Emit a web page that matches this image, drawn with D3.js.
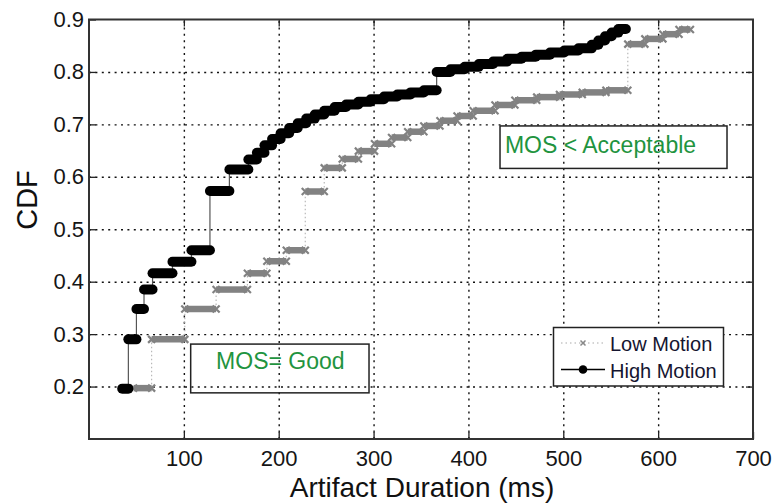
<!DOCTYPE html>
<html><head><meta charset="utf-8">
<script src="https://cdn.jsdelivr.net/npm/d3@7"></script>
<style>
body{margin:0;background:#fff;}
svg{display:block;font-family:"Liberation Sans",Arial,Helvetica,sans-serif;}
</style></head><body>
<svg id="chart" width="775" height="504"></svg>
<script>
// Axis ticks
const xTicks = [100, 200, 300, 400, 500, 600, 700];
const yTicks = [0.2, 0.3, 0.4, 0.5, 0.6, 0.7, 0.8, 0.9];

// Empirical CDF steps: level i holds between edges[i] and edges[i+1] (ms)
const highEdges = [35, 41.5, 50, 58, 67, 88, 108, 127.5, 148, 168, 177, 185, 193, 202, 211, 220, 229, 238, 248, 259,
  271, 284, 297, 311, 325, 339, 353, 366.5, 381, 396, 411, 426, 441, 456, 471, 486, 501, 516, 530, 537, 544, 551, 558, 566];
const highCdf = [0.196, 0.290, 0.348, 0.385, 0.416, 0.438, 0.460, 0.573, 0.614, 0.633, 0.646, 0.660, 0.672, 0.683, 0.693,
  0.702, 0.711, 0.719, 0.726, 0.733, 0.738, 0.743, 0.748, 0.753, 0.757, 0.761, 0.765, 0.800, 0.805, 0.810, 0.815, 0.820,
  0.825, 0.829, 0.833, 0.837, 0.841, 0.845, 0.852, 0.860, 0.868, 0.875, 0.882];

const lowEdges = [47, 66, 101, 134, 167, 187.5, 208, 228, 248, 267, 284, 301, 319, 336, 353, 370, 388, 405, 428, 449,
  472, 496, 520, 545, 568, 586, 605, 622, 634];
const lowCdf = [0.197, 0.290, 0.348, 0.385, 0.416, 0.439, 0.460, 0.572, 0.617, 0.634, 0.649, 0.663, 0.675, 0.686, 0.697,
  0.707, 0.716, 0.726, 0.737, 0.746, 0.752, 0.757, 0.761, 0.765, 0.853, 0.863, 0.872, 0.881];

const seriesNames = ["Low Motion", "High Motion"];
const noteAcceptable = "MOS < Acceptable";
const noteGood = "MOS= Good";
const xTitle = "Artifact Duration (ms)";
const yTitle = "CDF";

const W = 775, H = 504;
const m = {l: 89, r: 22, t: 19.5, b: 65};
const svg = d3.select("#chart");
const x = d3.scaleLinear().domain([0, 700]).range([m.l, W - m.r]);
const y = d3.scaleLinear().domain([0.1, 0.9]).range([H - m.b, m.t]);
const pw = W - m.l - m.r, ph = H - m.t - m.b;

// dotted grid
const gridStyle = g => g.call(s => s.select(".domain").remove())
  .call(s => s.selectAll(".tick line").attr("stroke", "#111").attr("stroke-width", 1.4).attr("stroke-dasharray", "2,4.4"));
svg.append("g").attr("transform", `translate(0,${y(0.1)})`)
  .call(d3.axisBottom(x).tickValues(xTicks.filter(d => d < 700)).tickSize(-ph).tickFormat(""))
  .call(gridStyle);
svg.append("g").attr("transform", `translate(${x(0)},0)`)
  .call(d3.axisLeft(y).tickValues(yTicks.filter(d => d < 0.9)).tickSize(-pw).tickFormat(""))
  .call(gridStyle);

// note boxes (unfilled), placed in data coordinates
function noteBox(x0, x1, y0, y1, txt, tx, ty) {
  svg.append("rect").attr("x", x(x0)).attr("y", y(y1)).attr("width", x(x1) - x(x0)).attr("height", y(y0) - y(y1))
    .attr("fill", "none").attr("stroke", "#222").attr("stroke-width", 1.5);
  svg.append("text").attr("x", x(tx)).attr("y", y(ty)).attr("font-size", 23).attr("fill", "#1f9440").text(txt);
}
noteBox(433.3, 672.6, 0.616, 0.697, noteAcceptable, 438.5, 0.645);
noteBox(107.2, 295.2, 0.188, 0.281, noteGood, 134, 0.233);

// build step segments
function steps(edges, cdf) {
  return cdf.map((c, i) => ({x0: edges[i], x1: edges[i + 1], c}));
}
function risers(edges, cdf) {
  return cdf.slice(1).map((c, i) => ({xv: edges[i + 1], c0: cdf[i], c1: c}));
}
const lowSteps = steps(lowEdges, lowCdf), highSteps = steps(highEdges, highCdf);

// Low motion: dotted grey risers, grey runs with x markers
const gl = svg.append("g");
gl.selectAll("line.riser").data(risers(lowEdges, lowCdf)).join("line")
  .attr("x1", d => x(d.xv)).attr("x2", d => x(d.xv)).attr("y1", d => y(d.c0)).attr("y2", d => y(d.c1))
  .attr("stroke", "#b8b8b8").attr("stroke-width", 1.2).attr("stroke-dasharray", "1.5,2.5");
gl.selectAll("line.run").data(lowSteps).join("line")
  .attr("x1", d => x(d.x0)).attr("x2", d => x(d.x1)).attr("y1", d => y(d.c)).attr("y2", d => y(d.c))
  .attr("stroke", "#828282").attr("stroke-width", 6.5);
const cross = "M-3.5,-3.5L3.5,3.5M-3.5,3.5L3.5,-3.5";
gl.selectAll("path.xm").data(lowSteps.flatMap(d => [[d.x0, d.c], [d.x1, d.c]])).join("path")
  .attr("d", cross).attr("transform", d => `translate(${x(d[0])},${y(d[1])})`)
  .attr("stroke", "#828282").attr("stroke-width", 2.2).attr("fill", "none");

// High motion: solid risers, black runs of dot markers
const gh = svg.append("g");
gh.selectAll("line.riser").data(risers(highEdges, highCdf)).join("line")
  .attr("x1", d => x(d.xv)).attr("x2", d => x(d.xv)).attr("y1", d => y(d.c0)).attr("y2", d => y(d.c1))
  .attr("stroke", "#555").attr("stroke-width", 1.2);
gh.selectAll("line.run").data(highSteps).join("line")
  .attr("x1", d => x(d.x0)).attr("x2", d => x(d.x1)).attr("y1", d => y(d.c)).attr("y2", d => y(d.c))
  .attr("stroke", "#000").attr("stroke-width", 10).attr("stroke-linecap", "round");

// axes with inward ticks on all sides
const axisStyle = g => g.call(s => s.select(".domain").remove())
  .call(s => s.selectAll(".tick line").attr("stroke", "#222").attr("stroke-width", 1.3))
  .call(s => s.selectAll(".tick text").attr("fill", "#151515").attr("font-size", 22)
    .attr("font-family", "'Liberation Sans',Arial,sans-serif"));
svg.append("g").attr("transform", `translate(0,${y(0.1)})`)
  .call(d3.axisBottom(x).tickValues(xTicks).tickSize(-7).tickPadding(11).tickFormat(d3.format("d")))
  .call(axisStyle);
svg.append("g").attr("transform", `translate(${x(0)},0)`)
  .call(d3.axisLeft(y).tickValues(yTicks).tickSize(-7).tickPadding(5).tickFormat(d3.format(".1f")))
  .call(axisStyle);
svg.append("g").attr("transform", `translate(0,${y(0.9)})`)
  .call(d3.axisTop(x).tickValues(xTicks.filter(d => d < 700)).tickSize(-7).tickFormat(""))
  .call(axisStyle);
svg.append("g").attr("transform", `translate(${x(700)},0)`)
  .call(d3.axisRight(y).tickValues(yTicks.filter(d => d < 0.9)).tickSize(-7).tickFormat(""))
  .call(axisStyle);
svg.append("rect").attr("x", x(0)).attr("y", y(0.9)).attr("width", pw).attr("height", ph)
  .attr("fill", "none").attr("stroke", "#333").attr("stroke-width", 2);

// legend
const lg = svg.append("g");
lg.append("rect").attr("x", 553.5).attr("y", 327.5).attr("width", 170).attr("height", 58.5)
  .attr("fill", "#fff").attr("stroke", "#222").attr("stroke-width", 1.5);
lg.append("line").attr("x1", 561).attr("x2", 605).attr("y1", 343).attr("y2", 343)
  .attr("stroke", "#aaa").attr("stroke-width", 1.2).attr("stroke-dasharray", "1.5,3");
lg.append("path").attr("d", "M-2.5,-2.5L2.5,2.5M-2.5,2.5L2.5,-2.5").attr("transform", "translate(583,343)")
  .attr("stroke", "#888").attr("stroke-width", 1.5);
lg.append("line").attr("x1", 561).attr("x2", 605).attr("y1", 369.5).attr("y2", 369.5)
  .attr("stroke", "#000").attr("stroke-width", 1.5);
lg.append("circle").attr("cx", 583).attr("cy", 369.5).attr("r", 4.3).attr("fill", "#000");
lg.selectAll("text").data(seriesNames).join("text")
  .attr("x", 610).attr("y", (d, i) => 350.5 + i * 27).attr("font-size", 20).attr("fill", "#151530").text(d => d);

// axis titles
svg.append("text").attr("x", (x(0) + x(700)) / 2 + 1).attr("y", 497).attr("text-anchor", "middle")
  .attr("font-size", 28).attr("fill", "#111").text(xTitle);
svg.append("text").attr("transform", "translate(36.5,200) rotate(-90)").attr("text-anchor", "middle")
  .attr("font-size", 29).attr("fill", "#111").text(yTitle);
</script>
</body></html>
